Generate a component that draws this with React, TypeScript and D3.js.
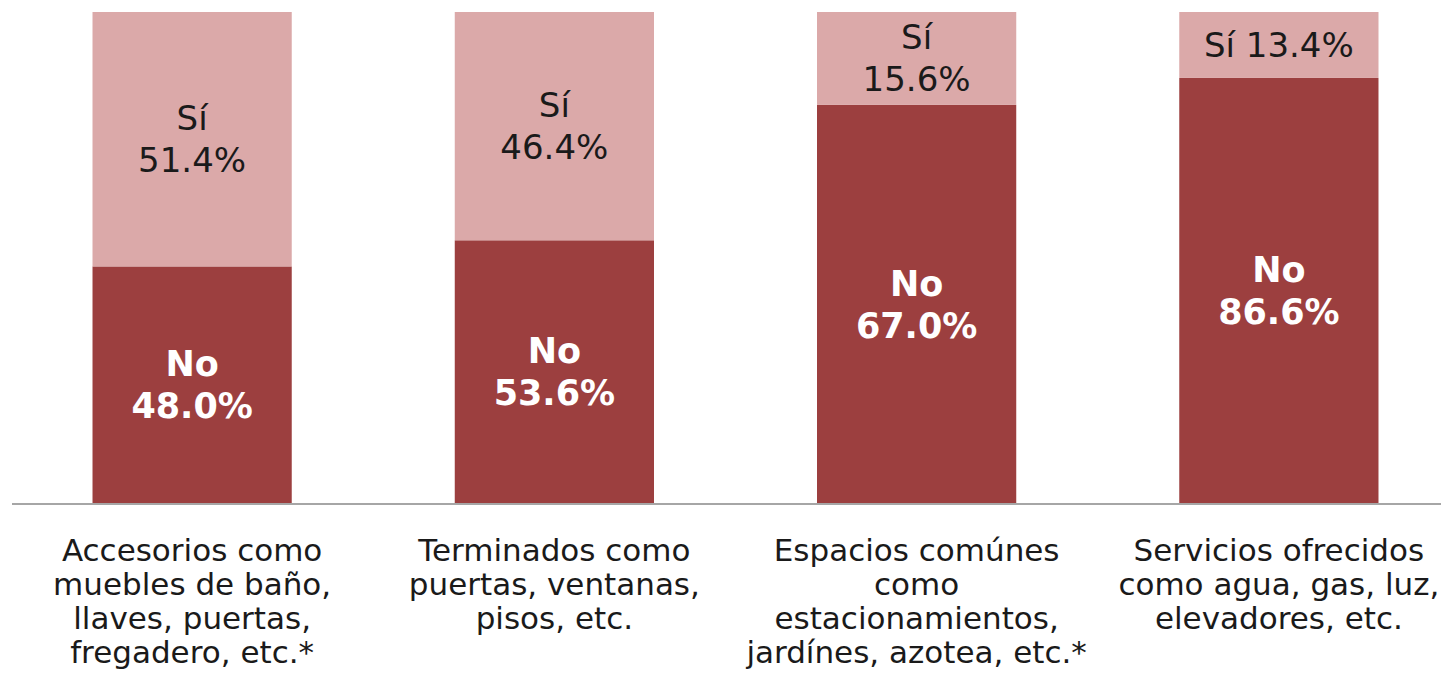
import React from "react";
import * as d3 from "d3";

// categories (axis labels, already broken into lines as in the original)
const categories = [
  ["Accesorios como", "muebles de baño,", "llaves, puertas,", "fregadero, etc.*"],
  ["Terminados como", "puertas, ventanas,", "pisos, etc."],
  ["Espacios comúnes", "como", "estacionamientos,", "jardínes, azotea, etc.*"],
  ["Servicios ofrecidos", "como agua, gas, luz,", "elevadores, etc."],
];
const noValues = [48.0, 53.6, 67.0, 86.6];
const siValues = [51.4, 46.4, 15.6, 13.4];
const seriesKeys = ["no", "si"];
const seriesNames = { no: "No", si: "Sí" };

const width = 1441;
const height = 679;
const FONT = "Verdana, 'DejaVu Sans', sans-serif";

const colors = { no: "#9c3f3f", si: "#dba9a9" };

export default function App() {
  const rows = categories.map((c, i) => ({ key: i, no: noValues[i], si: siValues[i] }));

  // 100% stacked: each bar normalised to its own total
  const stacked = d3
    .stack()
    .keys(seriesKeys)
    .offset(d3.stackOffsetExpand)(rows as any);

  const x = d3
    .scaleBand()
    .domain(rows.map(r => String(r.key)))
    .range([11, 1460])
    .paddingInner(0.45)
    .paddingOuter(0.225);

  const y = d3.scaleLinear().domain([0, 1]).range([504, 12]);

  const labels = [];
  stacked.forEach(layer => {
    const k = layer.key;
    layer.forEach((d, i) => {
      const y0 = y(d[0]);
      const y1 = y(d[1]);
      const cx = x(String(i)) + x.bandwidth() / 2;
      const cy = (y0 + y1) / 2;
      const val = (rows[i] as any)[k].toFixed(1) + "%";
      const lines = y0 - y1 < 80 ? [seriesNames[k] + " " + val] : [seriesNames[k], val];
      labels.push({ k, cx, cy, lines, id: k + i });
    });
  });

  const lineH = 42;

  return (
    <svg
      width={width}
      height={height}
      style={{ position: "absolute", left: 0, top: 0, background: "#fff" }}
    >
      {stacked.map(layer => (
        <g key={layer.key} fill={colors[layer.key]}>
          {layer.map((d, i) => (
            <rect
              key={i}
              x={x(String(i))}
              y={y(d[1])}
              width={x.bandwidth()}
              height={y(d[0]) - y(d[1])}
            />
          ))}
        </g>
      ))}

      {/* baseline */}
      <line x1={12} x2={1441} y1={504} y2={504} stroke="#a6a6a6" strokeWidth={2} />

      {labels.map(l => (
        <text
          key={l.id}
          x={l.cx}
          textAnchor="middle"
          fontFamily={FONT}
          fontSize={l.k === "no" ? 35 : 34}
          fontWeight={l.k === "no" ? "bold" : "normal"}
          fill={l.k === "no" ? "#ffffff" : "#1a1a1a"}
        >
          {l.lines.map((t, j) => (
            <tspan
              key={j}
              x={l.cx}
              y={l.cy + (j - (l.lines.length - 1) / 2) * lineH}
              dy="0.35em"
            >
              {t}
            </tspan>
          ))}
        </text>
      ))}

      {categories.map((lines, i) => {
        const cx = x(String(i)) + x.bandwidth() / 2;
        return (
          <text key={i} textAnchor="middle" fontFamily={FONT} fontSize={31} fill="#1a1a1a">
            {lines.map((t, j) => (
              <tspan key={j} x={cx} y={561 + j * 34}>
                {t}
              </tspan>
            ))}
          </text>
        );
      })}
    </svg>
  );
}
